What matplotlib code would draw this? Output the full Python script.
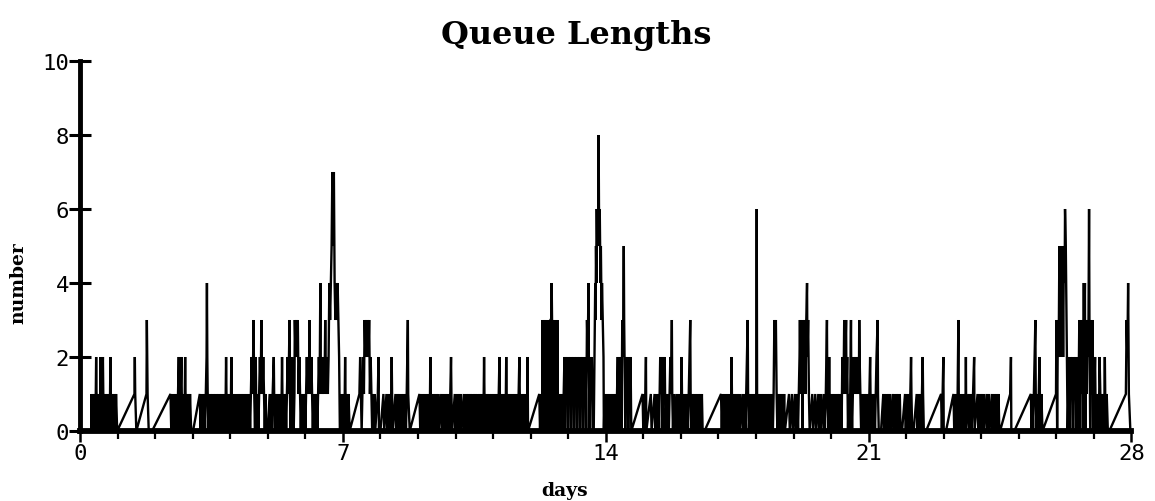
import matplotlib
matplotlib.use("Agg")
import matplotlib.pyplot as plt
from matplotlib.ticker import MultipleLocator

# (day, queue length) samples, by week
week1 = [(0.00,0),(0.30,0),(0.30,1),(0.32,0),(0.34,1),(0.36,0),(0.38,1),(0.40,0),(0.42,1),(0.43,2),(0.44,1),(0.45,0),(0.47,1),(0.49,0),(0.51,1),(0.53,0),(0.55,2),(0.56,1),(0.57,0),(0.59,1),(0.61,2),(0.62,1),(0.63,0),(0.65,1),(0.67,0),(0.69,1),(0.71,0),(0.73,1),(0.75,0),(0.77,1),(0.79,0),(0.81,2),(0.82,0),(0.84,1),(0.86,0),(0.88,1),(0.90,0),(0.92,1),(0.94,0),(0.96,1),(0.99,0),
         (1.45,1),(1.46,2),(1.47,1),(1.50,0),(1.77,1),(1.78,3),(1.79,2),(1.80,1),(1.83,0),(1.92,0),(2.41,1),
         (2.43,0),(2.45,1),(2.47,0),(2.49,1),(2.51,0),(2.53,1),(2.55,0),(2.57,1),(2.59,0),(2.61,1),(2.63,2),(2.64,1),(2.66,0),(2.68,1),(2.70,2),(2.71,1),(2.73,0),(2.75,1),(2.77,0),(2.79,1),(2.80,2),(2.81,1),(2.83,0),(2.85,1),(2.87,0),(2.89,1),(2.91,0),(2.93,1),(2.96,0),
         (3.01,0),(3.19,1),(3.21,0),(3.23,1),(3.25,0),(3.27,1),(3.29,0),(3.31,1),(3.33,0),(3.35,1),(3.37,2),(3.38,4),(3.39,2),(3.40,1),(3.42,0),(3.44,1),(3.46,0),(3.48,1),(3.50,0),(3.52,1),(3.54,0),(3.56,1),(3.58,0),(3.60,1),(3.62,0),(3.64,1),(3.66,0),(3.68,1),(3.70,0),(3.72,1),(3.74,0),(3.76,1),(3.78,0),(3.80,1),(3.82,0),(3.84,1),(3.86,0),(3.88,1),(3.89,2),(3.90,1),(3.92,0),(3.94,1),(3.96,0),(3.98,1),
         (4.00,0),(4.02,1),(4.03,2),(4.04,1),(4.06,0),(4.08,1),(4.10,0),(4.12,1),(4.14,0),(4.17,0),(4.19,1),(4.21,0),(4.23,1),(4.25,0),(4.27,1),(4.29,0),(4.31,1),(4.33,0),(4.35,1),(4.37,0),(4.39,1),(4.41,0),(4.43,1),(4.45,0),(4.47,1),(4.49,0),(4.51,1),(4.53,0),(4.55,1),(4.57,2),(4.59,1),(4.61,2),(4.62,3),(4.63,2),(4.64,1),(4.66,0),(4.68,2),(4.69,1),(4.71,0),(4.73,1),(4.75,0),(4.77,1),(4.79,2),(4.81,1),(4.83,3),(4.84,2),(4.86,1),(4.88,2),(4.90,1),(4.92,0),(4.94,1),(4.96,0),
         (5.00,0),(5.05,1),(5.07,0),(5.09,1),(5.11,0),(5.13,1),(5.16,2),(5.17,1),(5.19,0),(5.21,1),(5.23,0),(5.25,1),(5.27,0),(5.29,1),(5.31,0),(5.33,1),(5.35,0),(5.37,1),(5.38,2),(5.39,1),(5.41,0),(5.43,1),(5.45,0),(5.47,1),(5.49,0),(5.51,1),(5.53,2),(5.55,1),(5.58,3),(5.59,1),(5.61,0),(5.63,1),(5.65,2),(5.67,1),(5.69,0),(5.71,1),(5.72,3),(5.74,2),(5.76,3),(5.78,2),(5.80,3),(5.82,1),(5.84,2),(5.86,1),(5.88,0),(5.90,1),(5.92,0),
         (5.94,1),(5.96,0),(5.98,1),(6.00,0),(6.02,1),(6.04,2),(6.06,1),(6.08,2),(6.10,1),(6.11,3),(6.12,2),(6.14,1),(6.16,2),(6.18,1),(6.20,0),(6.22,1),(6.24,0),(6.26,1),(6.28,0),(6.30,1),(6.32,0),(6.34,1),(6.36,2),(6.38,1),(6.40,4),(6.41,2),(6.43,1),(6.45,2),(6.47,1),(6.49,2),(6.51,1),(6.53,3),(6.54,2),(6.56,1),(6.58,2),(6.60,1),(6.62,2),(6.63,3),(6.64,4),(6.66,3),(6.68,4),(6.70,5),(6.72,7),(6.74,5),(6.76,7),(6.78,4),(6.80,3),(6.82,4),(6.84,3),(6.86,4),(6.88,3),(6.90,2),(6.92,0),
         (6.95,0),(6.97,1),(6.99,0),(7.01,1),(7.03,0),(7.05,1),(7.06,2),(7.07,1),(7.09,0),(7.11,1),(7.13,0),(7.15,1),(7.18,0)]

week2 = [(7.44,1),(7.46,2),(7.48,1),(7.50,0),(7.52,1),(7.54,2),(7.56,1),(7.58,3),(7.60,2),(7.62,3),(7.64,2),(7.66,3),(7.68,2),(7.70,3),(7.72,1),(7.74,2),(7.76,1),(7.78,0),(7.80,1),(7.82,0),(7.84,1),(7.86,0),(7.93,1),(7.95,2),(7.96,0),
         (8.00,0),(8.08,1),(8.10,0),(8.16,1),(8.18,0),(8.22,1),(8.24,0),(8.26,1),(8.28,0),(8.30,2),(8.31,1),(8.33,0),(8.40,1),(8.42,0),(8.46,1),(8.48,0),(8.50,1),(8.52,0),(8.54,1),(8.56,0),(8.60,1),(8.62,0),(8.66,1),(8.68,0),(8.70,1),(8.73,3),(8.74,1),(8.78,0),
         (9.04,1),(9.06,0),(9.08,1),(9.10,0),(9.12,1),(9.14,0),(9.16,1),(9.18,0),(9.20,1),(9.22,0),(9.24,1),(9.26,0),(9.28,1),(9.30,0),(9.32,1),(9.33,2),(9.34,1),(9.36,0),(9.38,1),(9.40,0),(9.42,1),(9.44,0),(9.46,1),(9.48,0),(9.50,1),(9.52,0),(9.54,1),(9.56,0),(9.62,1),(9.64,0),(9.68,1),(9.70,0),(9.74,1),(9.76,0),(9.78,1),(9.80,0),(9.82,1),(9.84,0),(9.86,1),(9.88,2),(9.89,1),(9.91,0),
         (9.98,1),(10.00,0),(10.04,1),(10.06,0),(10.10,1),(10.12,0),(10.14,1),(10.16,0),(10.22,1),(10.24,0),(10.28,1),(10.30,0),(10.34,1),(10.36,0),(10.40,1),(10.42,0),(10.44,1),(10.46,0),(10.50,1),(10.52,0),(10.54,1),(10.56,0),(10.58,1),(10.60,0),(10.64,1),(10.66,0),(10.68,1),(10.70,0),(10.72,1),(10.74,0),(10.76,2),(10.77,1),(10.79,0),(10.81,1),(10.83,0),(10.85,1),(10.87,0),(10.89,1),(10.91,0),(10.95,1),(10.97,0),(11.01,1),(11.03,0),
         (11.07,1),(11.09,0),(11.11,1),(11.13,0),(11.15,1),(11.17,2),(11.18,1),(11.20,0),(11.22,1),(11.24,0),(11.26,1),(11.28,0),(11.30,1),(11.32,0),(11.34,1),(11.35,2),(11.36,1),(11.38,0),(11.40,1),(11.42,0),(11.44,1),(11.46,0),(11.48,1),(11.50,0),(11.52,1),(11.54,0),(11.56,1),(11.58,0),(11.60,1),(11.62,0),(11.64,1),(11.66,0),(11.68,1),(11.70,2),(11.71,1),(11.73,0),(11.75,1),(11.77,0),(11.79,1),(11.81,0),(11.83,1),(11.85,0),(11.87,1),(11.89,0),(11.91,1),(11.92,2),(11.93,0),
         (12.23,1),(12.25,0),(12.27,1),(12.29,0),(12.31,1),(12.32,3),(12.33,1),(12.34,0),(12.35,3),(12.36,2),(12.37,0),(12.38,3),(12.39,1),(12.40,0),(12.41,3),(12.42,2),(12.43,0),(12.44,3),(12.45,1),(12.46,0),(12.47,3),(12.48,2),(12.49,0),(12.50,3),(12.51,1),(12.52,0),(12.53,3),(12.55,3),(12.56,4),(12.57,3),(12.58,0),(12.59,3),(12.60,1),(12.61,0),(12.62,3),(12.63,2),(12.64,0),(12.65,3),(12.66,1),(12.67,0),(12.68,3),(12.69,2),(12.70,0),(12.71,3),(12.72,1),(12.74,0),(12.76,1),(12.78,0),(12.80,1),(12.82,0),(12.84,1),(12.86,0),(12.88,1),
         (12.90,2),(12.92,0),(12.94,2),(12.96,1),(12.98,2),(13.00,0),(13.02,2),(13.04,1),(13.06,2),(13.08,0),(13.10,2),(13.12,1),(13.14,2),(13.16,0),(13.18,2),(13.20,1),(13.22,2),(13.24,0),(13.26,2),(13.28,1),(13.30,2),(13.32,0),(13.34,2),(13.36,1),(13.38,2),(13.40,0),(13.42,2),(13.44,1),(13.46,2),(13.48,0),(13.50,3),(13.52,2),(13.54,4),(13.55,2),(13.57,0),(13.59,2),(13.61,1),(13.63,2),(13.65,0),
         (13.68,0),(13.70,2),(13.71,3),(13.72,4),(13.73,3),(13.74,5),(13.75,4),(13.76,6),(13.77,5),(13.78,6),(13.79,5),(13.80,6),(13.81,8),(13.82,6),(13.83,5),(13.84,6),(13.85,5),(13.86,4),(13.87,5),(13.88,4),(13.89,3),(13.90,4),(13.92,3),(13.94,2),(13.95,0),
         (13.97,1),(13.99,0),(14.01,1),(14.03,0),(14.05,1),(14.07,0),(14.09,1),(14.11,0),(14.13,1),(14.15,0),(14.17,1),(14.19,0),(14.21,1),(14.23,0),(14.25,1),(14.28,0),(14.32,2),(14.34,0),(14.36,2),(14.38,1),(14.40,2),(14.42,0),(14.44,3),(14.46,2),(14.48,5),(14.49,3),(14.50,2),(14.52,0),(14.54,2),(14.56,1),(14.58,2),(14.60,0),(14.62,2),(14.64,1),(14.66,2),(14.68,0)]

week3 = [(14.98,1),(15.00,0),(15.02,1),(15.04,0),(15.07,2),(15.08,0),
         (15.20,1),(15.22,0),(15.30,1),(15.32,0),(15.34,1),(15.36,0),(15.40,1),(15.42,0),(15.45,2),(15.47,1),(15.49,2),(15.51,0),(15.53,2),(15.55,1),(15.57,2),(15.59,0),(15.62,1),(15.64,0),(15.66,1),(15.68,0),(15.70,1),(15.72,2),(15.74,1),(15.76,3),(15.77,1),(15.79,0),(15.81,1),(15.83,0),(15.88,1),(15.90,0),
         (15.94,1),(15.96,0),(15.98,1),(16.00,0),(16.02,2),(16.03,1),(16.05,0),(16.07,1),(16.09,0),(16.13,1),(16.15,0),(16.17,1),(16.19,0),(16.21,1),(16.23,2),(16.25,3),(16.26,1),(16.28,0),(16.32,1),(16.34,0),(16.36,1),(16.38,0),(16.40,1),(16.42,0),(16.44,1),(16.46,0),(16.48,1),(16.50,0),(16.52,1),(16.54,0),(16.56,1),(16.58,0),(16.63,0),
         (17.07,1),(17.09,0),(17.11,1),(17.13,0),(17.15,1),(17.17,0),(17.19,1),(17.21,0),(17.23,1),(17.25,0),(17.27,1),(17.29,0),(17.31,1),(17.33,0),(17.35,2),(17.36,1),(17.38,0),(17.40,1),(17.42,0),(17.44,1),(17.46,0),(17.48,1),(17.50,0),(17.52,1),(17.54,0),(17.56,1),(17.58,0),
         (17.64,1),(17.66,0),(17.70,1),(17.72,0),(17.74,1),(17.76,2),(17.78,3),(17.79,1),(17.81,0),(17.85,1),(17.87,0),(17.91,1),(17.93,0),(17.97,1),(17.99,0),(18.01,1),(18.02,6),(18.03,1),(18.05,0),(18.07,1),(18.09,0),(18.11,1),(18.13,0),(18.15,1),(18.17,0),(18.19,1),(18.21,0),(18.23,1),(18.25,0),(18.27,1),(18.29,0),(18.31,1),(18.33,0),(18.35,1),(18.37,0),(18.39,1),(18.41,0),(18.43,1),(18.45,0),(18.47,1),(18.49,3),(18.51,2),(18.53,3),(18.55,1),(18.57,0),(18.59,1),(18.61,0),(18.63,1),(18.65,0),(18.67,1),(18.69,0),(18.71,1),(18.73,0),(18.75,1),(18.77,0),
         (18.88,1),(18.90,0),(18.96,1),(18.98,0),(19.04,1),(19.06,0),(19.10,1),(19.12,0),(19.16,2),(19.17,3),(19.19,1),(19.20,3),(19.22,2),(19.24,0),(19.26,3),(19.28,2),(19.30,3),(19.32,1),(19.34,3),(19.36,4),(19.37,2),(19.39,3),(19.41,1),(19.43,0),
         (19.50,1),(19.52,0),(19.58,1),(19.60,0),(19.66,1),(19.68,0),(19.72,1),(19.74,0),(19.80,1),(19.82,0),(19.86,1),(19.89,3),(19.90,1),(19.92,0),
         (19.94,1),(19.95,2),(19.96,1),(19.98,0),(20.00,1),(20.02,0),(20.04,1),(20.06,0),(20.08,1),(20.10,0),(20.12,1),(20.14,0),
         (20.18,1),(20.20,0),(20.22,1),(20.24,0),(20.26,1),(20.28,0),(20.30,2),(20.32,1),(20.34,2),(20.35,3),(20.36,1),(20.38,2),(20.40,3),(20.41,1),(20.43,2),(20.45,0),(20.47,1),(20.49,0),(20.51,1),(20.53,3),(20.54,1),(20.56,0),(20.58,1),(20.60,2),(20.62,1),(20.64,2),(20.66,1),(20.68,2),(20.70,1),(20.72,2),(20.74,1),(20.75,3),(20.76,2),(20.78,1),(20.80,0),
         (20.84,1),(20.86,0),(20.90,1),(20.92,0),(20.94,1),(20.96,0),(20.98,1),(21.00,0),(21.02,1),(21.04,2),(21.05,1),(21.07,0),(21.09,1),(21.11,0),(21.15,1),(21.17,0),(21.19,1),(21.21,2),(21.24,3),(21.25,1),(21.27,0)]

week4 = [(21.33,0),(21.39,1),(21.41,0),(21.43,1),(21.45,0),(21.47,1),(21.49,0),(21.53,1),(21.55,0),(21.57,1),(21.59,0),(21.65,1),(21.67,0),(21.69,1),(21.71,0),(21.75,1),(21.77,0),(21.79,1),(21.81,0),(21.83,1),(21.85,0),(21.89,0),
         (21.97,1),(21.99,0),(22.01,1),(22.03,0),(22.07,1),(22.09,0),(22.11,1),(22.13,2),(22.14,1),(22.16,0),(22.20,0),(22.28,1),(22.30,0),(22.34,1),(22.36,0),(22.38,1),(22.40,0),(22.42,1),(22.44,2),(22.45,1),(22.47,0),(22.53,0),
         (22.93,1),(22.95,0),(22.97,1),(22.99,2),(23.00,0),(23.06,0),(23.26,1),(23.28,0),(23.30,1),(23.32,0),(23.34,1),(23.36,0),(23.37,1),(23.39,3),(23.40,1),(23.42,0),(23.44,1),(23.46,0),(23.50,1),(23.52,0),(23.56,1),(23.58,0),(23.59,2),(23.60,0),(23.66,1),(23.68,0),(23.72,1),(23.74,0),(23.78,1),(23.81,2),(23.82,0),
         (23.90,1),(23.92,0),(23.94,1),(23.96,0),(23.98,1),(24.00,0),(24.02,1),(24.04,0),(24.06,1),(24.08,0),(24.14,1),(24.16,0),(24.20,1),(24.22,0),(24.28,1),(24.30,0),(24.34,1),(24.36,0),(24.40,1),(24.42,0),(24.46,1),(24.48,0),(24.50,0),
         (24.77,1),(24.79,2),(24.80,0),(24.88,0),(25.32,1),(25.34,0),(25.36,1),(25.38,0),(25.40,1),(25.42,2),(25.44,3),(25.45,1),(25.47,0),(25.49,1),(25.51,0),(25.53,1),(25.55,2),(25.56,1),(25.58,0),(25.60,1),(25.63,0),
         (25.99,1),(26.00,3),(26.02,0),(26.04,3),(26.06,2),(26.08,5),(26.10,2),(26.12,5),(26.14,2),(26.16,5),(26.18,2),(26.20,5),(26.22,4),(26.23,6),(26.25,5),(26.27,3),(26.30,0),
         (26.34,2),(26.36,0),(26.38,2),(26.40,1),(26.42,2),(26.44,0),(26.46,2),(26.48,1),(26.50,2),(26.52,0),(26.54,2),(26.56,1),(26.58,0),
         (26.61,3),(26.63,0),(26.65,3),(26.67,1),(26.69,3),(26.71,0),(26.73,4),(26.74,2),(26.76,4),(26.77,0),(26.79,3),(26.81,1),(26.83,3),(26.85,2),(26.87,6),(26.88,3),(26.90,0),(26.92,3),(26.94,1),(26.96,3),(26.98,0),(27.00,2),(27.01,1),
         (27.03,2),(27.05,0),(27.07,1),(27.09,0),(27.11,1),(27.13,0),(27.15,2),(27.17,1),(27.19,0),(27.21,1),(27.23,0),(27.25,1),(27.27,0),(27.29,2),(27.30,1),(27.32,0),(27.34,1),(27.37,0),(27.41,0),
         (27.85,1),(27.87,3),(27.89,2),(27.91,4),(27.93,1),(27.97,0),(28.00,0)]

x_ticks = [0, 7, 14, 21, 28]
x_ticklabels = ["0", "7", "14", "21", "28"]
y_ticks = [0, 2, 4, 6, 8, 10]
y_ticklabels = ["0", "2", "4", "6", "8", "10"]

title = "Queue Lengths"
xlabel = "days"
ylabel = "number"

days, queue = zip(*(week1 + week2 + week3 + week4))

fig = plt.figure(figsize=(11.55, 5.02), dpi=100)
ax = fig.add_axes([80/1155, 70/502, (1131.5-80)/1155, (432-62)/502])

ax.plot(days, queue, color="black", lw=1.7, solid_joinstyle="miter", clip_on=False, zorder=3)

ax.set_xlim(0, 28)
ax.set_ylim(0, 10)

for s in ["top", "right"]:
    ax.spines[s].set_visible(False)
ax.spines["left"].set_linewidth(3.5)
ax.spines["bottom"].set_linewidth(4.2)
ax.spines["left"].set_zorder(4)
ax.spines["bottom"].set_zorder(4)

ax.set_xticks(x_ticks)
ax.set_xticklabels(x_ticklabels)
ax.set_yticks(y_ticks)
ax.set_yticklabels(y_ticklabels)
ax.xaxis.set_minor_locator(MultipleLocator(1))

mono = "DejaVu Sans Mono"
ax.tick_params(axis="y", direction="inout", length=16, width=2.2, pad=0, labelsize=16)
ax.tick_params(axis="x", which="major", direction="out", length=8, width=1.8, pad=1, labelsize=16)
ax.tick_params(axis="x", which="minor", direction="out", length=6, width=1.6)
for lab in ax.get_xticklabels() + ax.get_yticklabels():
    lab.set_family(mono)

fig.text(0.499, 1 - 44/502, title, ha="center", va="baseline",
         fontsize=23, fontweight="bold", family="DejaVu Serif")
fig.text(0.489, 0.012, xlabel, ha="center", va="baseline",
         fontsize=13.5, fontweight="bold", family="DejaVu Serif")
fig.text(0.016, 1 - 283/502, ylabel, ha="center", va="center", rotation=90,
         fontsize=13.5, fontweight="bold", family="DejaVu Serif")

fig.savefig("out.png", dpi=100, facecolor="white")
